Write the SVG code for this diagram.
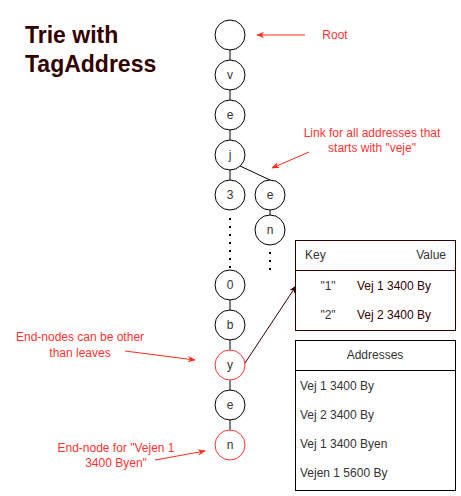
<svg xmlns="http://www.w3.org/2000/svg" width="461" height="496" viewBox="0 0 461 496">
<style>
text{font-family:"Liberation Sans",Arial,sans-serif;font-size:12px}
.n circle{fill:#fff;stroke:#000;stroke-width:1}
.n text{fill:#333;text-anchor:middle;dominant-baseline:central}
.n.end circle{stroke:#FF3333}
.edge{stroke:#000;stroke-width:1;fill:none}
.dots{stroke:#000;stroke-width:2;stroke-dasharray:2 6;fill:none}
.red{stroke:#FF2A1A;stroke-width:1;fill:none}
.rt{fill:#FF3333;text-anchor:middle}
.title{font-size:23px;font-weight:bold;fill:#330000}
.tb{fill:#fff;stroke:#330000}
.tb2{fill:#fff;stroke:#000}
</style>
<defs>
<marker id="ar" viewBox="0 0 10 10" refX="9" refY="5" markerWidth="8" markerHeight="8" orient="auto" markerUnits="userSpaceOnUse">
<path d="M0,1 L10,5 L0,9 L3,5 Z" fill="#FF2A1A"/>
</marker>
<marker id="ab" viewBox="0 0 10 10" refX="9" refY="5" markerWidth="8" markerHeight="8" orient="auto" markerUnits="userSpaceOnUse">
<path d="M0,1 L10,5 L0,9 L3,5 Z" fill="#330000"/>
</marker>
</defs>
<g id="title">
<text class="title" x="25" y="43">Trie with</text>
<text class="title" x="25" y="72">TagAddress</text>
</g>
<g id="connectors">
<line class="edge" x1="230" y1="50" x2="230" y2="60"/>
<line class="edge" x1="230" y1="90" x2="230" y2="100"/>
<line class="edge" x1="230" y1="130" x2="230" y2="140"/>
<line class="edge" x1="230" y1="170" x2="230" y2="180"/>
<line class="edge" x1="240" y1="166" x2="270" y2="180"/>
<line class="edge" x1="270" y1="210" x2="270" y2="215"/>
<line class="dots" x1="230" y1="218" x2="230" y2="270"/>
<line class="dots" x1="270" y1="252" x2="270" y2="272"/>
<line class="edge" x1="230" y1="300" x2="230" y2="310"/>
<line class="edge" x1="230" y1="340" x2="230" y2="350"/>
<line class="edge" x1="230" y1="380" x2="230" y2="390"/>
<line class="edge" x1="230" y1="420" x2="230" y2="430"/>
<line x1="245" y1="363" x2="296" y2="286" stroke="#330000" stroke-width="1" marker-end="url(#ab)"/>
<line class="red" x1="305" y1="35" x2="257" y2="35" marker-end="url(#ar)"/>
<line class="red" x1="309" y1="152" x2="272" y2="168" marker-end="url(#ar)"/>
<line class="red" x1="125" y1="351" x2="195" y2="360" marker-end="url(#ar)"/>
<line class="red" x1="155" y1="460" x2="205" y2="451" marker-end="url(#ar)"/>
</g>
<g id="root" class="n"><circle cx="230" cy="35" r="15"/></g>
<g id="n-v" class="n"><circle cx="230" cy="75" r="15"/><text x="230" y="75">v</text></g>
<g id="n-e1" class="n"><circle cx="230" cy="115" r="15"/><text x="230" y="115">e</text></g>
<g id="n-j" class="n"><circle cx="230" cy="155" r="15"/><text x="230" y="155">j</text></g>
<g id="n-3" class="n"><circle cx="230" cy="195" r="15"/><text x="230" y="195">3</text></g>
<g id="n-e2" class="n"><circle cx="270" cy="195" r="15"/><text x="270" y="195">e</text></g>
<g id="n-n1" class="n"><circle cx="270" cy="230" r="15"/><text x="270" y="230">n</text></g>
<g id="n-0" class="n"><circle cx="230" cy="285" r="15"/><text x="230" y="285">0</text></g>
<g id="n-b" class="n"><circle cx="230" cy="325" r="15"/><text x="230" y="325">b</text></g>
<g id="n-y" class="n end"><circle cx="230" cy="365" r="15"/><text x="230" y="365">y</text></g>
<g id="n-e3" class="n"><circle cx="230" cy="405" r="15"/><text x="230" y="405">e</text></g>
<g id="n-n2" class="n end"><circle cx="230" cy="445" r="15"/><text x="230" y="445">n</text></g>
<g id="label-root"><text class="rt" x="335" y="39">Root</text></g>
<g id="label-link"><text class="rt" x="372" y="137">Link for all addresses that</text><text class="rt" x="372" y="152">starts with "veje"</text></g>
<g id="label-endnodes"><text class="rt" x="80" y="341">End-nodes can be other</text><text class="rt" x="80" y="357">than leaves</text></g>
<g id="label-endnode"><text class="rt" x="116" y="452">End-node for "Vejen 1</text><text class="rt" x="116" y="467">3400 Byen"</text></g>
<g id="keyvalue">
<rect class="tb" x="295.5" y="240.5" width="160" height="90"/>
<line x1="295.5" y1="270.5" x2="455.5" y2="270.5" stroke="#330000"/>
<text x="305" y="259" fill="#333">Key</text>
<text x="446" y="259" fill="#333" text-anchor="end">Value</text>
<text x="328" y="290" fill="#333" text-anchor="middle">"1"</text>
<text x="357" y="290" fill="#330000">Vej 1 3400 By</text>
<text x="328" y="319" fill="#333" text-anchor="middle">"2"</text>
<text x="357" y="319" fill="#330000">Vej 2 3400 By</text>
</g>
<g id="addresses">
<rect class="tb2" x="295.5" y="340.5" width="160" height="150"/>
<line x1="295.5" y1="370.5" x2="455.5" y2="370.5" stroke="#000"/>
<text x="375" y="359" fill="#333" text-anchor="middle">Addresses</text>
<text x="300" y="390" fill="#333">Vej 1 3400 By</text>
<text x="300" y="419" fill="#333">Vej 2 3400 By</text>
<text x="300" y="448" fill="#333">Vej 1 3400 Byen</text>
<text x="300" y="477" fill="#333">Vejen 1 5600 By</text>
</g>
</svg>
